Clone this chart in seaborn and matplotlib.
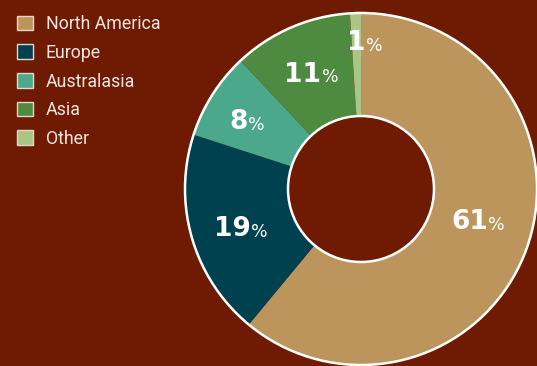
import numpy as np
import matplotlib
matplotlib.use("Agg")
import matplotlib.pyplot as plt
from matplotlib.patches import Patch, Circle
import seaborn as sns

regions = ["North America", "Europe", "Australasia", "Asia", "Other"]
shares = [61, 19, 8, 11, 1]
colors = ["#BC955D", "#00414F", "#4BA88B", "#4E8B40", "#A9C685"]

bg = "#6F1B03"
sns.set_theme(style="white")
plt.rcParams["font.family"] = ["DejaVu Sans"]

W, H, DPI = 537, 366, 100
fig = plt.figure(figsize=(W / DPI, H / DPI), dpi=DPI, facecolor=bg)

cx, cy, R = 361, 189, 176
ax = fig.add_axes([(cx - R) / W, (H - cy - R) / H, 2 * R / W, 2 * R / H])
ax.set_facecolor("none")

inner = 73 / 176
wedges, _ = ax.pie(shares, colors=colors, startangle=90, counterclock=False,
                   radius=1, wedgeprops=dict(width=1 - inner, linewidth=0))
for w in wedges:
    w.set_clip_on(False)
ax.add_patch(Circle((0, 0), 1, fill=False, ec="white", lw=1.8, clip_on=False))
ax.add_patch(Circle((0, 0), inner, fill=False, ec="white", lw=1.8, clip_on=False))
ax.set_xlim(-1, 1)
ax.set_ylim(-1, 1)
ax.set_aspect("equal")
ax.axis("off")

# small label nudges (axis units), styling only
nudges = [(0.0, 0.05), (0.0, -0.03), (-0.05, 0.0), (0.0, 0.0), (0.05, 0.02)]

total = float(sum(shares))
cum = 0.0
rmid = (1 + inner) / 2
for v, (nx, ny) in zip(shares, nudges):
    mid = (cum + v / 2) / total
    cum += v
    ang = np.deg2rad(90 - 360 * mid)
    r = rmid if v > 2 else rmid + 0.1
    x, y = r * np.cos(ang) + nx, r * np.sin(ang) + ny
    t = ax.text(x - 0.05, y, f"{v}", color="white", fontsize=19, fontweight="bold",
                ha="center", va="center", family="DejaVu Sans")
    ax.annotate("%", xy=(1, 0), xycoords=t, xytext=(0.3, 1), textcoords="offset points",
                ha="left", va="bottom", color="white", fontsize=12.5, family="DejaVu Sans")

handles = [Patch(facecolor=c, edgecolor="#E0D6CC", linewidth=1) for c in colors]
leg = fig.legend(handles, regions, loc="upper left",
                 bbox_to_anchor=(3 / W, 1 - 1 / H), frameon=False,
                 prop={"family": "Roboto", "size": 12.8}, labelcolor="#EFE6DE",
                 handlelength=0.9, handleheight=0.9, labelspacing=0.6,
                 handletextpad=0.7, borderpad=0.3)

fig.savefig("out.png", dpi=DPI, facecolor=bg)
